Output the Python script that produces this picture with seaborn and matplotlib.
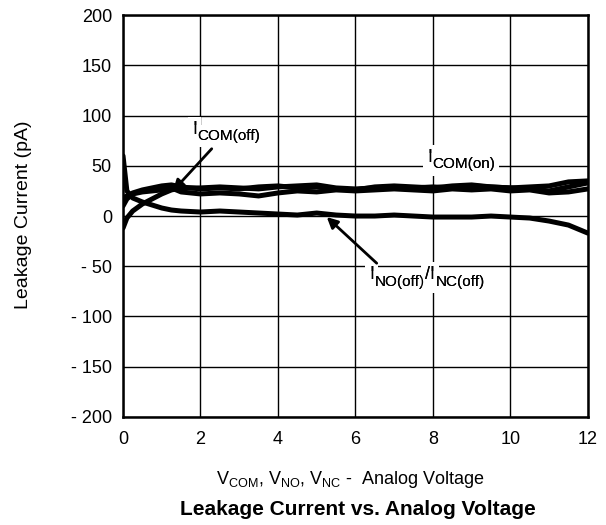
import matplotlib
matplotlib.use("Agg")
import matplotlib.pyplot as plt
import seaborn as sns
import pandas as pd

# analog voltage (V)
voltage = [0, 0.1, 0.25, 0.5, 0.75, 1.0, 1.25, 1.5, 2, 2.5, 3, 3.5, 4, 4.5, 5,
           5.5, 6, 6.5, 7, 7.5, 8, 8.5, 9, 9.5, 10, 10.5, 11, 11.5, 12]

# leakage currents (pA)
i_no_off = [60, 25, 18, 14, 11, 8, 6, 5, 4, 5, 4, 3, 2, 1, 3,
            1, 0, 0, 1, 0, -1, -1, -1, 0, -1, -2, -5, -9, -17]
i_com_off = [-12, -2, 5, 12, 17, 22, 26, 28, 28, 29, 28, 27, 29, 30, 31,
             28, 27, 28, 29, 28, 29, 28, 30, 29, 28, 27, 25, 29, 33]
i_com_on_a = [10, 17, 22, 24, 25, 26, 28, 24, 22, 23, 22, 20, 23, 25, 24,
              26, 25, 26, 27, 26, 25, 27, 26, 27, 25, 26, 23, 24, 27]
i_com_on_b = [18, 20, 23, 26, 28, 30, 31, 29, 27, 28, 27, 29, 30, 28, 29,
              27, 26, 29, 30, 29, 28, 30, 31, 29, 28, 29, 30, 34, 35]

y_ticks = [-200, -150, -100, -50, 0, 50, 100, 150, 200]
y_tick_labels = ["- 200", "- 150", "- 100", "- 50", "0", "50", "100", "150", "200"]
x_ticks = [0, 2, 4, 6, 8, 10, 12]

sns.set_style("white")
plt.rcParams["font.family"] = ["Liberation Sans", "DejaVu Sans"]
plt.rcParams["text.color"] = "black"
plt.rcParams["axes.labelcolor"] = "black"

df = pd.DataFrame({
    "V": voltage * 4,
    "I": i_no_off + i_com_off + i_com_on_a + i_com_on_b,
    "curve": (["no_off"] * len(voltage) + ["com_off"] * len(voltage)
              + ["com_on_a"] * len(voltage) + ["com_on_b"] * len(voltage)),
})

fig = plt.figure(figsize=(6.06, 5.25), dpi=100)
ax = fig.add_axes([0.203, 0.206, 0.767, 0.765])

sns.lineplot(data=df, x="V", y="I", units="curve", estimator=None,
             color="black", linewidth=3.6, ax=ax, legend=False, zorder=3)

ax.set_xlim(0, 12)
ax.set_ylim(-200, 200)
ax.set_xticks(x_ticks)
ax.set_yticks(y_ticks)
ax.set_yticklabels(y_tick_labels)
ax.tick_params(length=0, labelsize=13, colors="black")
ax.tick_params(axis="x", pad=10)
ax.tick_params(axis="y", pad=8)
ax.grid(True, color="black", linewidth=1)
for s in ax.spines.values():
    s.set_color("black")
    s.set_linewidth(1.8)
    s.set_visible(True)

ax.set_xlabel("")
ax.set_ylabel("Leakage Current (pA)", fontsize=14)
ax.yaxis.set_label_coords(-0.196, 0.504)


def sub_label(x, y, parts, size=13, sub_size=11):
    # parts: list of (text, is_subscript); drawn twice so the white boxes sit under all glyphs
    for layer, box in ((4, dict(facecolor="white", edgecolor="none", pad=3)), (5, None)):
        prev = ax.text(x, y, parts[0][0], fontsize=size, va="bottom", ha="left",
                       bbox=box, zorder=layer)
        last_sub = False
        for txt, is_sub in parts[1:]:
            dy = -4 if is_sub and not last_sub else (4 if (not is_sub and last_sub) else 0)
            prev = ax.annotate(txt, xy=(1, 0), xycoords=prev, xytext=(0.3, dy),
                               textcoords="offset points", va="bottom", ha="left",
                               fontsize=sub_size if is_sub else size,
                               bbox=box, zorder=layer)
            last_sub = is_sub


sub_label(1.78, 78, [("I", False), ("COM(off)", True)])
sub_label(7.85, 50, [("I", False), ("COM(on)", True)])
sub_label(6.35, -67, [("I", False), ("NO(off)", True), ("/I", False), ("NC(off)", True)])

arrow = dict(arrowstyle="-|>", color="black", lw=2, mutation_scale=16, shrinkA=0, shrinkB=0)
ax.annotate("", xy=(1.29, 25), xytext=(2.29, 67), arrowprops=arrow, zorder=6)
ax.annotate("", xy=(5.26, -1), xytext=(6.55, -47), arrowprops=arrow, zorder=6)

fig.text(0.578, 0.0876,
         r"V$_{\mathregular{COM}}$, V$_{\mathregular{NO}}$, V$_{\mathregular{NC}}$ -  Analog Voltage",
         fontsize=13, ha="center", va="center", color="black")
fig.text(0.59, 0.029, "Leakage Current vs. Analog Voltage", fontsize=15,
         fontweight="bold", ha="center", va="center", color="black")

fig.savefig("out.png", dpi=100)
